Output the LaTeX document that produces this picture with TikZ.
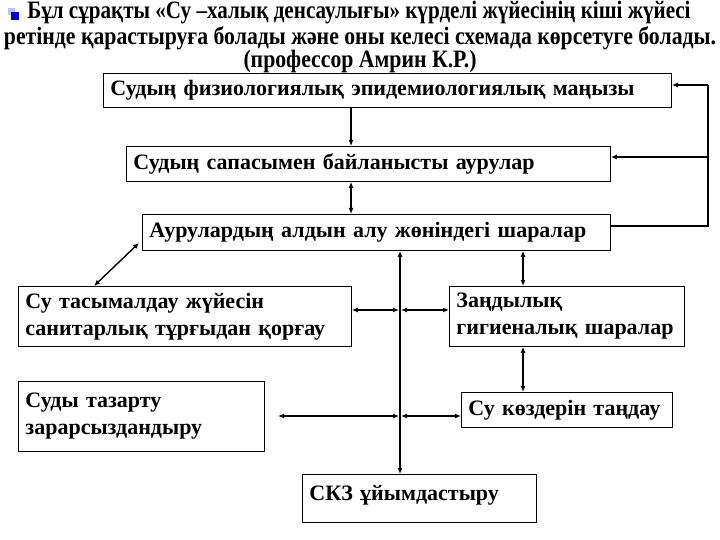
\documentclass[tikz,border=0pt]{standalone}
\usepackage{fontspec}
\setmainfont{Liberation Serif}
\newfontfamily\titlefont[FakeStretch=0.87]{Liberation Serif}
\usetikzlibrary{arrows.meta}
\begin{document}
\begin{tikzpicture}[x=1pt,y=-1pt,
  box/.style={draw, line width=0.9pt, anchor=north west, inner xsep=7pt, inner ysep=0pt,
    align=left, font=\bfseries\fontsize{22}{27}\selectfont},
  ttl/.style={inner sep=0pt, font=\titlefont\bfseries\fontsize{25}{25}\selectfont},
  both/.style={line width=1.4pt, {Latex[length=6pt,width=5pt]}-{Latex[length=6pt,width=5pt]}},
  one/.style={line width=1.4pt, -{Latex[length=6pt,width=5pt]}},
  fb/.style={line width=1.6pt}
]
\useasboundingbox (0,0) rectangle (720,540);
\fill[white] (0,0) rectangle (720,540);

% bullet
\fill[blue!25] (8,8) rectangle (15,15);
\fill[blue!75!black] (11,12) rectangle (19,20);

% title
\node[ttl] (t1) at (359,13) {\scalebox{0.97}[1]{Бұл сұрақты «Су –халық денсаулығы» күрделі жүйесінің кіші жүйесі}};
\node[ttl] (t2) at (360,38) {ретінде қарастыруға болады және оны келесі схемада көрсетуге болады.};
\node[ttl] (t3) at (360,61) {(профессор Амрин К.Р.)};

% boxes
\node[box, minimum width=568pt, minimum height=34pt, text width=554pt] (b1) at (103,73)
  {Судың физиологиялық эпидемиологиялық маңызы};
\node[box, minimum width=484pt, minimum height=35pt, text width=470pt] (b2) at (126,146)
  {Судың сапасымен байланысты аурулар};
\node[box, minimum width=468pt, minimum height=36pt, text width=454pt] (b3) at (142,214)
  {Аурулардың алдын алу жөніндегі шаралар};
\node[box, minimum width=333pt, minimum height=60pt, text width=319pt] (b4) at (18,286)
  {Су тасымалдау жүйесін\\санитарлық тұрғыдан қорғау};
\node[box, minimum width=235pt, minimum height=60pt, text width=221pt] (b5) at (449,286)
  {Заңдылық\\гигиеналық шаралар};
\node[box, minimum width=246pt, minimum height=70pt, text width=232pt] (b6) at (18,381)
  {Суды тазарту\\зарарсыздандыру};
\node[box, minimum width=211pt, minimum height=35pt, text width=197pt] (b7) at (461,392)
  {Су көздерін таңдау};
\node[box, minimum width=234pt, minimum height=48pt, text width=220pt, text depth=12pt] (b8) at (302,474)
  {СКЗ ұйымдастыру};

% helper coordinates
\coordinate (xa) at (351,0);
\coordinate (xb) at (400,0);
\coordinate (xc) at (523,0);
\coordinate (xr) at (708,0);
\coordinate (ya) at (0,310);
\coordinate (yb) at (0,416);
\coordinate (yf1) at (0,85);
\coordinate (yf2) at (0,157);
\coordinate (yf3) at (0,226);
\coordinate (lend) at (278,416);
\coordinate (ma) at (399,310);
\coordinate (mb) at (401,310);
\coordinate (mc) at (399,416);
\coordinate (md) at (401,416);

% connectors
\draw[one] (b1.south -| xa) -- (b2.north -| xa);
\draw[both] (b2.south -| xa) -- (b3.north -| xa);
\draw[both] ([shift={(-3,-8)}]b3.south west) -- ([shift={(76,0)}]b4.north west);
\draw[both] (b3.south -| xb) -- (b8.north -| xb);
\draw[both] (b3.south -| xc) -- (b5.north -| xc);
\draw[both] (b5.south -| xc) -- (b7.north -| xc);
\draw[both] (b4.east |- ya) -- (ma);
\draw[both] (mb) -- (b5.west |- ya);
\draw[both] (lend) -- (mc);
\draw[both] (md) -- (b7.west |- yb);

% feedback loop
\draw[fb] (b3.east |- yf3) -- (xr |- yf3) -- (xr |- yf1);
\draw[fb, -{Latex[length=6pt,width=5pt]}] (xr |- yf1) -- (b1.east |- yf1);
\draw[fb, -{Latex[length=6pt,width=5pt]}] (xr |- yf2) -- (b2.east |- yf2);
\end{tikzpicture}
\end{document}
